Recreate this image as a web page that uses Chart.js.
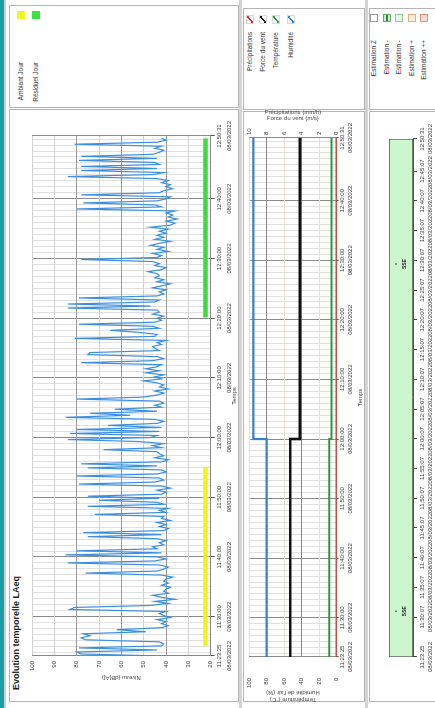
<!DOCTYPE html>
<html><head><meta charset="utf-8">
<script src="https://cdn.jsdelivr.net/npm/chart.js@4"></script>
<style>
html,body{margin:0;padding:0;background:#fff;width:435px;height:708px;overflow:hidden;}
#root{position:absolute;left:0;top:0;width:708px;height:435px;transform-origin:0 0;transform:translateY(708px) rotate(-90deg);overflow:hidden;background:#fff;font-family:"Liberation Sans",Arial,sans-serif;}
.box{position:absolute;border:1px solid #b4b4b4;box-sizing:border-box;background:#fff;}
.bar{position:absolute;}
canvas{position:absolute;}
.lg{position:absolute;font-size:6.5px;color:#333;white-space:nowrap;line-height:8px;text-align:right;}
.sw{position:absolute;width:8px;height:8px;box-sizing:border-box;}
.ttl{position:absolute;font-size:9px;font-weight:bold;color:#222;white-space:nowrap;}
</style></head>
<body>
<div id="root">
  <div class="bar" style="left:0;top:0;width:708px;height:4px;background:#1b9ea6"></div>
  <div class="bar" style="left:0;top:4px;width:708px;height:2px;background:#d0d0d0"></div>
  <div class="bar" style="left:0;top:239px;width:708px;height:3px;background:#d4d4d4"></div>
  <div class="bar" style="left:0;top:365px;width:708px;height:3px;background:#d4d4d4"></div>

  <div class="box" style="left:6px;top:9px;width:593px;height:230px"></div>
  <div class="box" style="left:600px;top:9px;width:103px;height:230px"></div>
  <div class="box" style="left:6px;top:243px;width:591px;height:122px"></div>
  <div class="box" style="left:598px;top:243px;width:102px;height:122px"></div>
  <div class="box" style="left:6px;top:369px;width:591px;height:80px"></div>
  <div class="box" style="left:598px;top:369px;width:102px;height:80px"></div>

  <div class="ttl" style="left:18px;top:11px">Evolution temporelle LAeq</div>

  <div class="sw" style="left:689px;top:17px;background:#f5f51e"></div>
  <div class="lg" style="right:62px;top:16.5px">Ambiant Jour</div>
  <div class="sw" style="left:689px;top:32px;background:#3fe03f"></div>
  <div class="lg" style="right:62px;top:31.5px">Résiduel Jour</div>

  <div class="sw" style="left:684px;top:245.5px;width:9px;border:1px solid #e4d0d0;background:linear-gradient(to bottom right,transparent 40%,#d03030 40%,#d03030 60%,transparent 60%)"></div>
  <div class="lg" style="right:32px;top:245.5px">Précipitations</div>
  <div class="sw" style="left:684px;top:258.5px;width:9px;border:1px solid #dddddd;background:linear-gradient(to bottom right,transparent 40%,#111 40%,#111 60%,transparent 60%)"></div>
  <div class="lg" style="right:32px;top:258.5px">Force du vent</div>
  <div class="sw" style="left:684px;top:271.5px;width:9px;border:1px solid #d0e4d0;background:linear-gradient(to bottom right,transparent 40%,#2a9a3a 40%,#2a9a3a 60%,transparent 60%)"></div>
  <div class="lg" style="right:32px;top:271.5px">Température</div>
  <div class="sw" style="left:684px;top:286.5px;width:9px;border:1px solid #d0dcec;background:linear-gradient(to bottom right,transparent 40%,#3a80d0 40%,#3a80d0 60%,transparent 60%)"></div>
  <div class="lg" style="right:32px;top:286.5px">Humidité</div>

  <div class="sw" style="left:686px;top:370px;border:1px solid #999;background:#fff"></div>
  <div class="lg" style="right:40px;top:370px">Estimation Z</div>
  <div class="sw" style="left:686px;top:382.5px;border:1px solid #6a6;background:linear-gradient(to bottom,#c8efc8 35%,#2a8a3a 35%,#2a8a3a 65%,#c8efc8 65%)"></div>
  <div class="lg" style="right:40px;top:382.5px">Estimation -</div>
  <div class="sw" style="left:686px;top:395px;border:1px solid #9c9;background:#e6f8e6"></div>
  <div class="lg" style="right:40px;top:395px">Estimation -</div>
  <div class="sw" style="left:686px;top:407.5px;border:1px solid #e0b080;background:#fdebd6"></div>
  <div class="lg" style="right:40px;top:407.5px">Estimation +</div>
  <div class="sw" style="left:686px;top:420px;border:1px solid #e09080;background:#fbdcd4"></div>
  <div class="lg" style="right:40px;top:420px">Estimation ++</div>

  <canvas id="cA" width="592" height="228" style="left:6px;top:10px;width:592px;height:228px"></canvas>
  <canvas id="cB" width="598" height="124" style="left:2px;top:240px;width:598px;height:124px"></canvas>
  <canvas id="cC" width="598" height="80" style="left:2px;top:366px;width:598px;height:80px"></canvas>
</div>
<script>
// ---------- data ----------
const DATE = '08/03/2022';
const START = 41005;            // 11:23:25  axis start (s since midnight)
const END = 46231;              // 12:50:31
const noiseStepSec = 20.33;     // LAeq sampling step
const noiseDb = [
41,78,80, 44,79,42, 41,43,76, 78,74,77, 49,62,42, 39,42,40, 44,38,41, 43,40,83, 81,47,39, 45,36,42,
46,39,41, 40,38,42, 39,41,40, 37,42,76, 44,41,39, 43,84,45, 40,44,85, 42,80,44, 46,41,43, 40,44,75,
42,77,41, 39,43,40, 44,38,42, 41,72,40, 43,39,75, 41,44,70, 43,75,42, 40,44,38, 42,79,45, 41,43,80,
44,40,42, 75,44,78, 42,39,45, 41,43,44, 68,42,46, 41,52,84, 47,44,83, 43,80,42, 66,44,41, 45,85,56,
74,44,63, 42,45,41, 43,80,50, 44,41,45, 39,43,41, 44,50,42, 45,41,49, 43,49,44, 42,78,46, 41,44,75,
74,43,45, 46,42,44, 40,81,45, 44,52,65, 43,46,79, 45,42,44, 41,46,43, 44,84,47, 84,45,43, 79,44,41,
43,40,46, 42,38,44, 41,45,43, 44,48,42, 40,45,43, 46,78,44, 42,46,39, 44,41,47, 43,38,45, 41,44,40,
43,39,47, 38,36,40, 35,39,37, 40,36,80, 42,45,77, 44,40,38, 78,43,41, 37,40,38, 42,39,44, 84,46,41,
78,44,78, 43,45,79, 44,78,46, 43,41,45, 42,81,44, 40,42
];
const ambiantJourPeriod = [41107, 42907];   // 11:25:07 - 11:55:07
const residuelJourPeriod = [44407, 46207];  // 12:20:07 - 12:50:07
const periodLevelDb = 22.3;

const weatherTimes = [START, 43200, END];
const humidity = [80, 95, 95];         // %
const temperature = [8.5, 6, 6];       // °C
const windSpeed = [5.3, 4.2, 4.2];     // m/s
const precipitation = [0, 0, 0];       // mm/h

const majorTicks = [START, 41400, 42000, 42600, 43200, 43800, 44400, 45000, 45600, END];
const estimationTicks = [START, 41407, 41707, 42007, 42307, 42607, 42907, 43207, 43507, 43807, 44107, 44407, 44707, 45007, 45307, 45607, 45907, END];
const estimationBand = [START, END];
const windDirLabels = ['SSE', 'SSE'];
const windDirTimes = [41467, 44970];

// ---------- helpers ----------
Chart.defaults.font.family = '"Liberation Sans", Arial, sans-serif';
Chart.defaults.font.size = 6;
Chart.defaults.color = '#444';
Chart.defaults.animation = false;

function hms(s){ s=Math.round(s); const h=Math.floor(s/3600), m=Math.floor(s%3600/60), x=s%60;
  return [h,m,x].map(v=>String(v).padStart(2,'0')).join(':'); }
const majorSet = new Set(majorTicks);
const allTicks = (()=>{ const t=new Set(majorTicks); for(let v=Math.ceil(START/60)*60; v<END; v+=60) t.add(v); return [...t].sort((a,b)=>a-b); })();

function timeAxis(height, tl, lh){
  return {
    type:'linear', min:START, max:END,
    afterBuildTicks: s => { s.ticks = allTicks.map(v=>({value:v, major:majorSet.has(v)})); },
    afterFit: s => { s.height = height; },
    ticks:{ autoSkip:false, maxRotation:0, minRotation:0, padding:0, font:{size:6, lineHeight:lh}, color:'#444',
      callback:(v,i,t)=> t[i].major ? [hms(v), DATE] : '' },
    grid:{ color: c => (c.tick && c.tick.major) ? '#8c8c8c' : '#e0e0e0', lineWidth:1, tickLength:tl,
      tickColor: c => (c.tick && c.tick.major) ? '#555' : 'rgba(0,0,0,0)' },
    border:{ display:true, color:'#888' },
    title:{ display:true, text:'Temps', font:{size:6, lineHeight:1}, padding:{top:0,bottom:1}, color:'#444' }
  };
}

// ---------- Chart A : LAeq ----------
const noisePts = noiseDb.map((v,i)=>({x: START + i*noiseStepSec, y: v}));
new Chart(document.getElementById('cA'), {
  type:'line',
  data:{ datasets:[
    { data: noisePts, borderColor:'#3b8fe0', borderWidth:1.2, pointRadius:0, tension:0 },
    { data: ambiantJourPeriod.map(t=>({x:t, y:periodLevelDb})), borderColor:'#f2f21c', borderWidth:4.5, pointRadius:0 },
    { data: residuelJourPeriod.map(t=>({x:t, y:periodLevelDb})), borderColor:'#3ddc3d', borderWidth:4.5, pointRadius:0 }
  ]},
  options:{
    responsive:false, maintainAspectRatio:false,
    layout:{ padding:{ left:0, right:26, top:22, bottom:0 } },
    plugins:{ legend:{display:false}, tooltip:{enabled:false} },
    scales:{
      x: timeAxis(27.3, 4, 1.6),
      y: { min:20, max:100, afterFit: s=>{ s.width = 46; },
        ticks:{ stepSize:10, padding:5, font:{size:6}, color:'#444' },
        grid:{ drawTicks:false, color: c => [80,60,40].includes(c.tick.value) ? '#9a9a9a' : '#d2d2d2' },
        border:{ display:true, color:'#888' },
        title:{ display:true, text:'Niveau (dB[A])', font:{size:6, lineHeight:1}, padding:{top:21,bottom:0}, color:'#444' } }
    }
  }
});

// ---------- Chart B : météo ----------
const wpts = arr => arr.map((v,i)=>({x: weatherTimes[i], y: v}));
new Chart(document.getElementById('cB'), {
  type:'line',
  data:{ datasets:[
    { label:'Humidité', data: wpts(humidity), yAxisID:'yL', borderColor:'#3a80d0', borderWidth:2.2, pointRadius:0, stepped:true },
    { label:'Température', data: wpts(temperature), yAxisID:'yL', borderColor:'#2a9a3a', borderWidth:2, pointRadius:0, stepped:true },
    { label:'Force du vent', data: wpts(windSpeed), yAxisID:'yR', borderColor:'#111', borderWidth:2.6, pointRadius:0, stepped:true },
    { label:'Précipitations', data: wpts(precipitation), yAxisID:'yR', borderColor:'#d83a30', borderWidth:2.6, pointRadius:0, stepped:true }
  ]},
  options:{
    responsive:false, maintainAspectRatio:false,
    layout:{ padding:{ left:0, right:0, top:9, bottom:0 } },
    plugins:{ legend:{display:false}, tooltip:{enabled:false} },
    scales:{
      x: timeAxis(27.3, 2, 1.34),
      yL: { position:'left', min:0, max:100, afterFit: s=>{ s.width = 49; },
        ticks:{ stepSize:20, padding:0, font:{size:6}, color:'#444' },
        grid:{ drawTicks:true, tickLength:21, tickColor:'rgba(0,0,0,0)', color: c => [40,80].includes(c.tick.value) ? '#8a8a8a' : '#ecdcdc' },
        border:{ display:true, color:'#888' },
        title:{ display:true, text:['Température (°C)', "Humidité de l'air (%)"], font:{size:6, lineHeight:1.2}, padding:{top:3,bottom:0}, color:'#444' } },
      yR: { position:'right', min:0, max:10, afterFit: s=>{ s.width = 30; },
        ticks:{ stepSize:2, padding:3, font:{size:6}, color:'#444' },
        grid:{ drawOnChartArea:false, drawTicks:false },
        border:{ display:true, color:'#888' },
        title:{ display:true, text:['Précipitations (mm/h)', 'Force du vent (m/s)'], font:{size:6, lineHeight:1}, padding:{top:1,bottom:0}, color:'#444' } }
    }
  }
});

// ---------- Chart C : estimation ----------
const sseLabels = {
  id:'sseLabels',
  afterDatasetsDraw(chart){
    const {ctx, chartArea, scales:{x}} = chart;
    const cy = (chartArea.top + chartArea.bottom)/2;
    ctx.save();
    ctx.fillStyle = '#222'; ctx.font = 'bold 5px "Liberation Sans", Arial';
    ctx.textAlign = 'center'; ctx.textBaseline = 'middle';
    windDirTimes.forEach((t,i)=>{
      const px = x.getPixelForValue(t);
      ctx.fillText(windDirLabels[i], px, cy + 3.5);
      ctx.beginPath(); ctx.arc(px, cy - 5, 0.8, 0, Math.PI*2); ctx.fill();
    });
    ctx.restore();
  }
};
new Chart(document.getElementById('cC'), {
  type:'bar',
  data:{ labels:['Estimation'], datasets:[
    { data:[estimationBand], backgroundColor:'#ccf7cc', borderColor:'#555', borderWidth:1, borderSkipped:false,
      barPercentage:1, categoryPercentage:1 }
  ]},
  options:{
    indexAxis:'y', responsive:false, maintainAspectRatio:false,
    layout:{ padding:{ left:0, right:31, top:23, bottom:0 } },
    plugins:{ legend:{display:false}, tooltip:{enabled:false} },
    scales:{
      x:{ type:'linear', min:START, max:END,
        afterBuildTicks: s => { s.ticks = estimationTicks.map(v=>({value:v})); },
        afterFit: s => { s.height = 33; },
        ticks:{ autoSkip:false, maxRotation:0, minRotation:0, padding:1, font:{size:6, lineHeight:1.4}, color:'#444',
          callback:(v)=>[hms(v), DATE] },
        grid:{ drawOnChartArea:false, tickLength:4, tickColor:'#444' },
        border:{ display:true, color:'#555' } },
      y:{ afterFit: s=>{ s.width = 49; }, ticks:{display:false}, grid:{display:false}, border:{display:true, color:'#444'} }
    }
  },
  plugins:[sseLabels]
});
</script>
</body></html>
